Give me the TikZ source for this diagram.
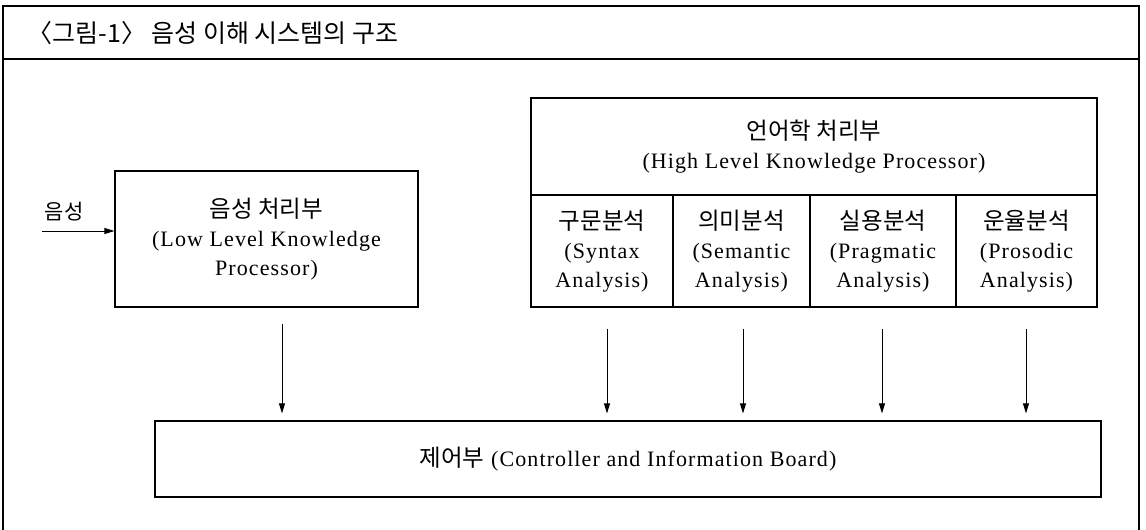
\documentclass[tikz,border=0pt]{standalone}
\usepackage{fontspec}
\setmainfont{Liberation Serif}[LetterSpace=5]
\newfontfamily\kr{Noto Sans CJK KR}
\newcommand\krtext[1]{{\kr\fontsize{23.5}{29}\selectfont #1}}
\usetikzlibrary{arrows.meta}
\tikzset{
  frame/.style={line width=1.1pt},
  box/.style={draw, line width=1.2pt, inner sep=0pt, align=center,
    font=\fontsize{22}{29}\selectfont},
  flow/.style={line width=0.9pt, -{Triangle[length=10pt,width=6pt]}},
}
\begin{document}
\begin{tikzpicture}[x=1pt,y=-1pt]
\useasboundingbox (0,0) rectangle (1146,530);
% outer frame, open at the bottom
\draw[frame] (3,530) -- (3,6) -- (1139,6) -- (1139,530);
\draw[frame] (3,59) -- (1139,59);
\node[anchor=west, font=\kr\fontsize{25}{28}\selectfont] (title) at (24,33) {〈그림-1〉 음성 이해 시스템의 구조};

% low level processor
\node[box, minimum width=303pt, minimum height=136pt] (low) at (266.5,239)
  {\krtext{음성 처리부}\\(Low Level Knowledge\\Processor)};
% high level processor
\node[box, minimum width=566pt, minimum height=97pt] (high) at (814,146.5)
  {\krtext{언어학 처리부}\\(High Level Knowledge Processor)};
\node[box, minimum width=142pt, minimum height=112pt] (syn) at (602,251)
  {\krtext{구문분석}\\(Syntax\\Analysis)};
\node[box, minimum width=137pt, minimum height=112pt] (sem) at (741.5,251)
  {\krtext{의미분석}\\(Semantic\\Analysis)};
\node[box, minimum width=146pt, minimum height=112pt] (pra) at (883,251)
  {\krtext{실용분석}\\(Pragmatic\\Analysis)};
\node[box, minimum width=141pt, minimum height=112pt] (pro) at (1026.5,251)
  {\krtext{운율분석}\\(Prosodic\\Analysis)};
% controller
\node[box, minimum width=946pt, minimum height=76pt] (ctrl) at (628,459)
  {\krtext{제어부} (Controller and Information Board)};

% input
\coordinate (in) at (42,231);
\node[font=\kr\fontsize{21}{24}\selectfont] (inlabel) at (64,212) {음성};
\draw[flow] (in) -- (in -| low.west);

% arrows to controller
\coordinate (a0) at (282,324);
\coordinate (a1) at (607,329);
\coordinate (a2) at (743,329);
\coordinate (a3) at (882,329);
\coordinate (a4) at (1026,329);
\foreach \i in {0,...,4}{
  \draw[flow] (a\i) -- ([yshift=7pt]a\i |- ctrl.north);
}
\end{tikzpicture}
\end{document}
